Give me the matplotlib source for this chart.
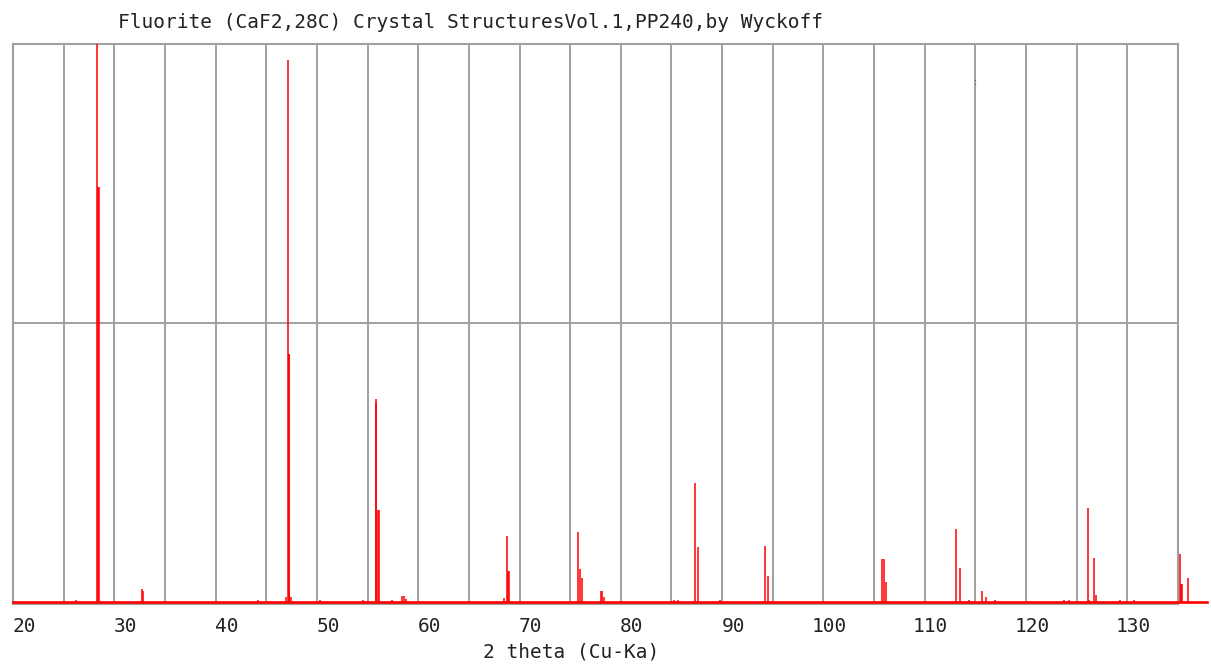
import matplotlib
matplotlib.use('Agg')
import matplotlib.pyplot as plt
import matplotlib.transforms as mtransforms

# diffraction lines: 2 theta (deg) and relative intensity (%)
two_theta = [26.19, 28.30, 28.38, 28.46, 32.76, 32.86, 44.19,
             46.95, 47.10, 47.20, 47.28, 47.40, 50.31, 54.55,
             55.79, 55.88, 56.03, 56.13, 57.38, 58.40, 58.60, 58.80,
             68.50, 68.72, 68.87, 68.96, 75.82, 75.97, 76.12,
             78.04, 78.19, 78.34, 85.28, 85.68, 87.37, 87.65, 89.79,
             94.24, 94.53, 105.78, 105.93, 106.18, 113.04, 113.48, 114.40,
             115.63, 116.05, 116.94, 123.70, 124.25, 126.15, 126.22,
             126.71, 126.86, 129.28, 130.66, 135.17, 135.33, 135.40, 135.94]
intensity = [0.5, 100.0, 74.3, 74.3, 2.3, 2.1, 0.5,
             0.9, 97.1, 44.5, 44.5, 0.9, 0.5, 0.4,
             36.4, 35.7, 16.5, 16.5, 0.5, 1.2, 1.2, 0.6,
             0.7, 11.8, 5.6, 5.6, 12.6, 5.9, 4.3,
             2.1, 2.1, 0.9, 0.5, 0.5, 21.3, 9.9, 0.5,
             10.0, 4.8, 7.7, 7.7, 3.7, 13.2, 6.2, 0.4,
             2.1, 0.95, 0.4, 0.5, 0.4, 16.9, 0.5,
             8.0, 1.3, 0.5, 0.5, 8.6, 3.2, 3.2, 4.3]

tick_pos = [20, 30, 40, 50, 60, 70, 80, 90, 100, 110, 120, 130]
tick_lbl = [str(t) for t in tick_pos]
grid_x = list(range(25, 135, 5))
x_min, x_max, x_end = 20, 135, 137.9

title = 'Fluorite (CaF2,28C) Crystal StructuresVol.1,PP240,by Wyckoff'
xlabel = '2 theta (Cu-Ka)'

font = 'DejaVu Sans Mono'
gray = '#a0a0a0'
txt = '#222222'

fig = plt.figure(figsize=(12.11, 6.66), dpi=100)
ax = fig.add_axes([13 / 1211, 1 - 604 / 666, 1165 / 1211, 560 / 666])

ax.set_xlim(x_min, x_max)
ax.set_ylim(-0.3, 100)

for gx in grid_x:
    ax.axvline(gx, color=gray, lw=1.4, zorder=1)
ax.axhline(50, color=gray, lw=1.4, zorder=1)

for s in ax.spines.values():
    s.set_color(gray)
    s.set_linewidth(1.5)

# baseline runs past the frame, like the last lines
ax.plot([x_min, x_end], [0, 0], color='#ff0000', lw=1.9, clip_on=False, zorder=3)
ax.vlines(two_theta, 0, intensity, colors='#ff0000', lw=1.1, clip_on=False, zorder=4)

ax.set_yticks([])
ax.set_xticks(tick_pos)
ax.set_xticklabels(tick_lbl, fontfamily=font, fontsize=14, color=txt)
ax.tick_params(axis='x', length=0, pad=9)
for lbl in ax.get_xticklabels():
    dx = 11 if len(lbl.get_text()) < 3 else 6
    off = mtransforms.ScaledTranslation(dx / 100, 0, fig.dpi_scale_trans)
    lbl.set_transform(lbl.get_transform() + off)

ax.text(115.0, 93.2, ':', fontsize=7, color='#444444', ha='center', va='center')

fig.text(118 / 1211, 1 - 23 / 666, title, fontfamily=font, fontsize=14,
         color=txt, ha='left', va='center')
fig.text(571 / 1211, 1 - 652 / 666, xlabel, fontfamily=font, fontsize=14,
         color=txt, ha='center', va='center')

fig.savefig('out.png', dpi=100, facecolor='white')
